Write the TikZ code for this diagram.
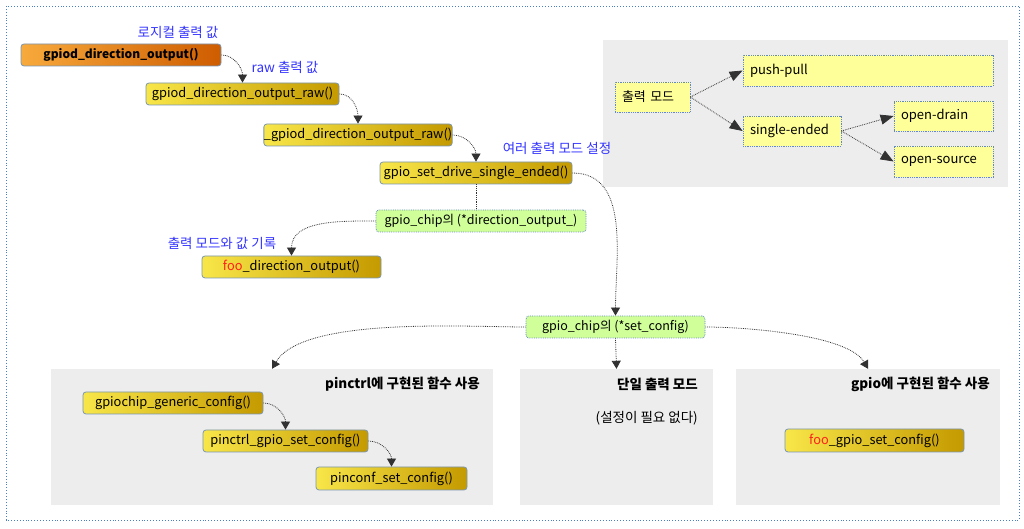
\documentclass[tikz,border=0pt]{standalone}
\usepackage{fontspec}
\setmainfont{Noto Sans CJK KR}
\usetikzlibrary{arrows.meta}

\begin{document}
\begin{tikzpicture}[x=1pt,y=1pt,
  funcbox/.style={draw=boxLine,line width=0.8pt,rounded corners=3pt,left color=yellowL,right color=yellowR,
    minimum height=22pt,inner sep=0pt,font=\fontsize{12.8}{14}\selectfont},
  topbox/.style={funcbox,left color=orangeL,right color=orangeR,font=\fontsize{12}{14}\selectfont\bfseries},
  chipbox/.style={draw=dotLine,densely dotted,line width=0.8pt,rounded corners=3pt,fill=chipGreen,
    minimum height=22pt,inner sep=0pt,font=\fontsize{12.5}{14}\selectfont},
  modebox/.style={draw=dotLine,densely dotted,line width=0.8pt,fill=modeYellow,inner xsep=7pt,inner ysep=0pt,
    align=left,minimum height=30pt,font=\fontsize{13}{15}\selectfont},
  panel/.style={fill=panelGray,inner sep=0pt},
  paneltitle/.style={anchor=east,inner sep=0pt,font=\fontsize{13.5}{15}\selectfont\bfseries},
  note/.style={text=noteBlue,inner sep=0pt,font=\fontsize{13.5}{15}\selectfont},
  flow/.style={draw=flowColor,densely dotted,line width=0.8pt,-{Triangle[length=8pt,width=9pt]}},
  branch/.style={flow,-{Triangle[length=13pt,width=10pt]}}]
\definecolor{boxLine}{RGB}{122,150,180}
\definecolor{yellowL}{RGB}{248,230,72}
\definecolor{yellowR}{RGB}{196,154,0}
\definecolor{orangeL}{RGB}{248,170,60}
\definecolor{orangeR}{RGB}{206,92,0}
\definecolor{dotLine}{RGB}{100,136,196}
\definecolor{chipGreen}{RGB}{208,255,154}
\definecolor{modeYellow}{RGB}{255,255,153}
\definecolor{panelGray}{RGB}{237,237,237}
\definecolor{noteBlue}{RGB}{51,51,255}
\definecolor{fooRed}{RGB}{255,32,32}
\definecolor{flowColor}{RGB}{50,50,50}
\definecolor{frameBlue}{RGB}{74,126,196}
\path[use as bounding box] (0,0) rectangle (1024,529);

% outer frame
\draw[frameBlue,dotted,line width=0.9pt] (6,523) rectangle (1019,9);

% gray panels
\node[panel,minimum width=405pt,minimum height=147pt] (modepanel) at (805.5,415.5) {};
\node[panel,minimum width=442pt,minimum height=136pt] (lpanel) at (272,92) {};
\node[panel,minimum width=193pt,minimum height=136pt] (mpanel) at (616.5,92) {};
\node[panel,minimum width=264pt,minimum height=136pt] (rpanel) at (868,92) {};

\node[paneltitle] (ltitle) at (480,145) {pinctrl에 구현된 함수 사용};
\node[paneltitle] (mtitle) at (698,145) {단일 출력 모드};
\node[paneltitle,font=\fontsize{13.5}{15}\selectfont] (msub) at (698,111) {(설정이 필요 없다)};
\node[paneltitle] (rtitle) at (990,145) {gpio에 구현된 함수 사용};

% call chain
\node[topbox,minimum width=200pt] (dirout) at (121,474) {gpiod\_direction\_output()};
\node[funcbox,minimum width=193pt] (diroutraw) at (242.5,435) {gpiod\_direction\_output\_raw()};
\node[funcbox,minimum width=188pt] (udiroutraw) at (358,394) {\_gpiod\_direction\_output\_raw()};
\node[funcbox,minimum width=192pt] (setdrive) at (476,356) {gpio\_set\_drive\_single\_ended()};
\node[chipbox,minimum width=210pt] (chipdirout) at (481,308) {gpio\_chip의 (*direction\_output\_)};
\node[funcbox,minimum width=179pt] (foodirout) at (291.5,262) {{\color{fooRed}foo}\_direction\_output()};
\node[chipbox,minimum width=179pt] (chipsetcfg) at (615.5,202) {gpio\_chip의 (*set\_config)};

\node[funcbox,minimum width=180pt] (genericcfg) at (173,126) {gpiochip\_generic\_config()};
\node[funcbox,minimum width=165pt] (pinctrlcfg) at (285.5,88) {pinctrl\_gpio\_set\_config()};
\node[funcbox,minimum width=151pt,minimum height=23pt] (pinconfcfg) at (391.5,50.5) {pinconf\_set\_config()};
\node[funcbox,minimum width=179pt,minimum height=23pt] (foosetcfg) at (874.5,88.5) {{\color{fooRed}foo}\_gpio\_set\_config()};

% notes
\node[note] (nlogical) at (178,497) {로지컬 출력 값};
\node[note] (nraw) at (285,462) {raw 출력 값};
\node[note] (nmodes) at (557,381) {여러 출력 모드 설정};
\node[note] (nrecord) at (222,286) {출력 모드와 값 기록};

% output modes
\node[modebox,text width=61pt] (outmode) at (652.5,432) {\mbox{출력 모드}};
\node[modebox,text width=236pt,minimum height=31pt] (pushpull) at (868,458.5) {\mbox{push-pull}};
\node[modebox,text width=84pt] (single) at (792,398) {\mbox{single-ended}};
\node[modebox,text width=85pt] (opendrain) at (943.5,413) {\mbox{open-drain}};
\node[modebox,text width=85pt,minimum height=31pt] (opensource) at (943.5,367.5) {\mbox{open-source}};

\draw[branch] (outmode.east) -- (pushpull.west);
\draw[branch] (outmode.east) -- (single.west);
\draw[branch] (single.east) -- (opendrain.west);
\draw[branch] (single.east) -- (opensource.west);

% connectors
\draw[flow] (dirout.east) to[out=0,in=90] (diroutraw.north);
\draw[flow] (diroutraw.east) to[out=0,in=90] (udiroutraw.north);
\draw[flow] (udiroutraw.east) to[out=0,in=90] (setdrive.north);
\draw[flow,-] (setdrive.south) -- (setdrive.south |- chipdirout.north);
\draw[flow] (chipdirout.west) to[out=180,in=90] (foodirout.north);
\draw[flow] (setdrive.east) to[out=0,in=90] (chipsetcfg.north);
\draw[flow] (chipsetcfg.west) to[out=180,in=60,looseness=0.6] (lpanel.north);
\draw[flow] (chipsetcfg.south) -- (mpanel.north);
\draw[flow] (chipsetcfg.east) to[out=0,in=120,looseness=0.6] (rpanel.north);
\draw[flow] (genericcfg.east) to[out=0,in=90] (pinctrlcfg.north);
\draw[flow] (pinctrlcfg.east) to[out=0,in=90] (pinconfcfg.north);
\end{tikzpicture}
\end{document}
